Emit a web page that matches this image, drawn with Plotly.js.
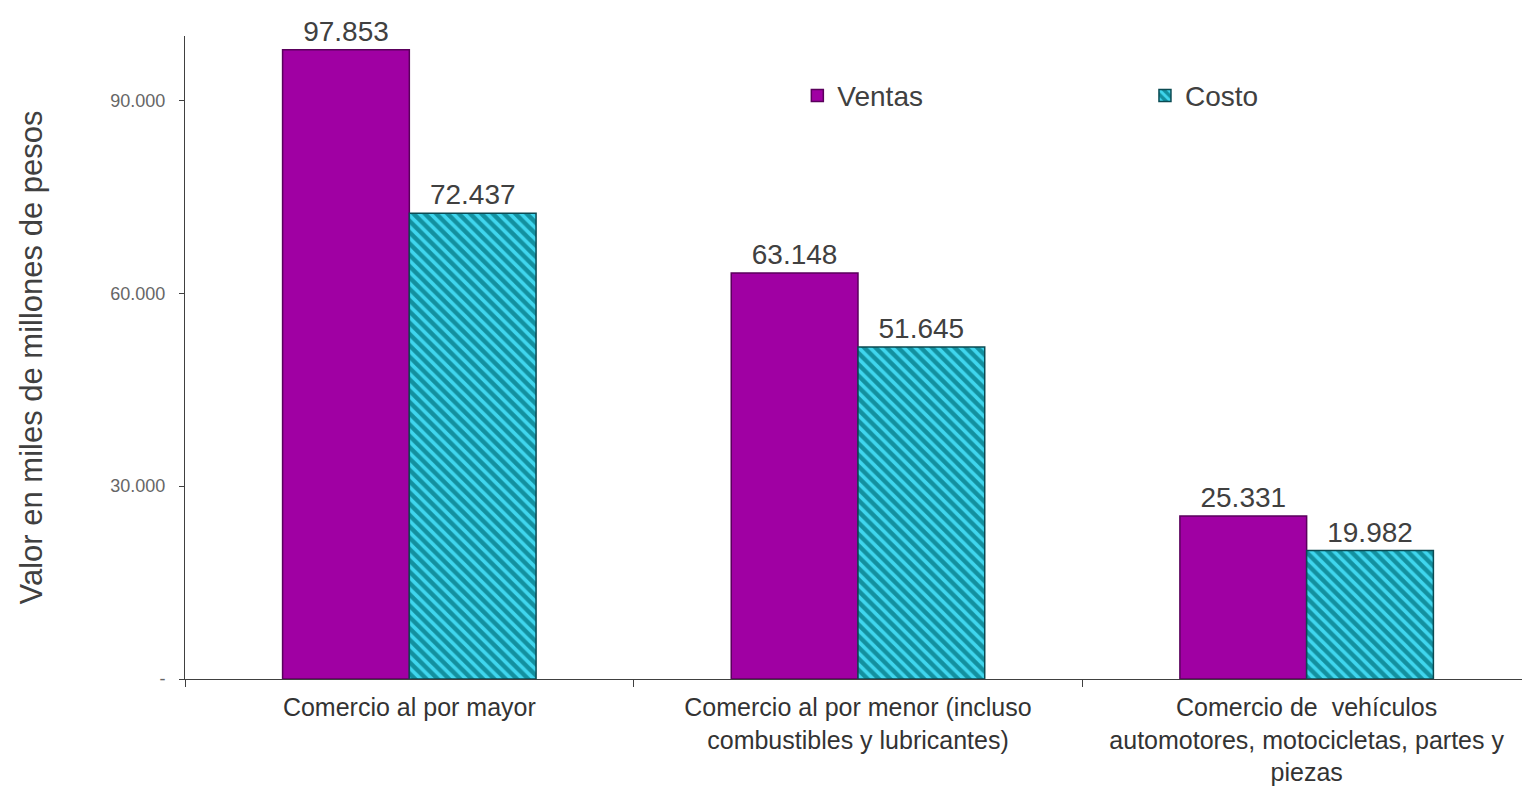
<!DOCTYPE html>
<html>
<head>
<meta charset="utf-8">
<script src="https://cdn.plot.ly/plotly-3.0.1.min.js"></script>
<style>html,body{margin:0;padding:0;background:#fff;}#chart{width:1522px;height:788px;}</style>
</head>
<body>
<div id="chart"></div>
<script>
const categories = [
  "Comercio al por mayor",
  "Comercio al por menor (incluso<br>combustibles y lubricantes)",
  "Comercio de  vehículos<br>automotores, motocicletas, partes y<br>piezas"
];
const ventas = [97853, 63148, 25331];
const costo = [72437, 51645, 19982];
const yTickVals = [0, 30000, 60000, 90000];
const yTickText = ["-", "30.000", "60.000", "90.000"];

const font = "Liberation Sans, Arial, sans-serif";

const traces = [
  {
    type: "bar", name: "Ventas", x: categories, y: ventas, legend: "legend",
    marker: {color: "#a000a3", line: {color: "#5a005c", width: 1.5}},
    text: ventas, texttemplate: "%{y:,}", textposition: "outside",
    textfont: {size: 28, color: "#404040", family: font},
    cliponaxis: false, hoverinfo: "skip"
  },
  {
    type: "bar", name: "Costo", x: categories, y: costo, legend: "legend2",
    marker: {
      color: "#17a2b4",
      line: {color: "#0b4a52", width: 1.5},
      pattern: {shape: "\\", fgcolor: "#3fd6ee", bgcolor: "#13909f", size: 8, solidity: 0.45, fillmode: "replace"}
    },
    text: costo, texttemplate: "%{y:,}", textposition: "outside",
    textfont: {size: 28, color: "#404040", family: font},
    cliponaxis: false, hoverinfo: "skip"
  }
];

const legendBase = {
  orientation: "h", yanchor: "middle", xanchor: "left", y: 0.907,
  font: {size: 28, color: "#404040", family: font},
  itemwidth: 30, bgcolor: "rgba(0,0,0,0)"
};

const layout = {
  width: 1522, height: 788,
  margin: {l: 185, r: 0, t: 36, b: 109},
  paper_bgcolor: "#fff", plot_bgcolor: "#fff",
  separators: ",.",
  font: {family: font, color: "#404040"},
  barmode: "group", bargap: 0.435, bargroupgap: 0,
  showlegend: true,
  legend: Object.assign({}, legendBase, {x: 0.458}),
  legend2: Object.assign({}, legendBase, {x: 0.718}),
  xaxis: {
    type: "category", range: [-0.5, 2.48],
    showline: true, linecolor: "#404040", linewidth: 1,
    ticks: "outside", tickson: "boundaries", ticklen: 7, tickcolor: "#404040",
    ticklabelstandoff: 6,
    tickfont: {size: 25, color: "#333333", family: font},
    showgrid: false, zeroline: false, fixedrange: true
  },
  yaxis: {
    range: [0, 100000],
    tickvals: yTickVals, ticktext: yTickText,
    showline: true, linecolor: "#404040", linewidth: 1,
    ticks: "outside", ticklen: 5, tickcolor: "#404040",
    ticklabelstandoff: 10,
    tickfont: {size: 18, color: "#666666", family: font},
    showgrid: false, zeroline: false,
    title: {text: "Valor en miles de millones de pesos", font: {size: 31, color: "#404040", family: font}, standoff: 58},
    fixedrange: true
  }
};

Plotly.newPlot("chart", traces, layout, {displayModeBar: false, staticPlot: true});
</script>
</body>
</html>
